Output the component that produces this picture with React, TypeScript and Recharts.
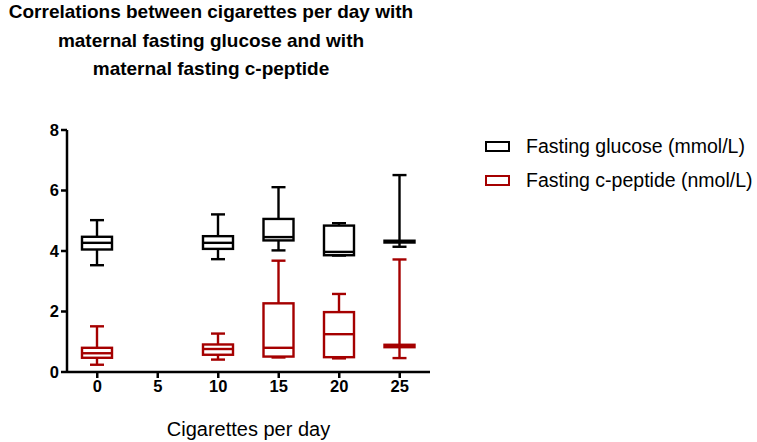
import React from "react";
import { ComposedChart, Bar, XAxis, YAxis } from "recharts";

const categories = [0, 5, 10, 15, 20, 25];

const glucoseMin = [3.53, null, 3.73, 4.02, 3.85, 4.14];
const glucoseQ1 = [4.05, null, 4.07, 4.35, 3.86, 4.28];
const glucoseMedian = [4.27, null, 4.27, 4.46, 3.97, 4.31];
const glucoseQ3 = [4.47, null, 4.49, 5.06, 4.84, 4.34];
const glucoseMax = [5.02, null, 5.21, 6.11, 4.92, 6.51];

const peptideMin = [0.24, null, 0.41, 0.48, 0.45, 0.46];
const peptideQ1 = [0.47, null, 0.57, 0.51, 0.49, 0.82];
const peptideMedian = [0.62, null, 0.76, 0.8, 1.25, 0.86];
const peptideQ3 = [0.8, null, 0.91, 2.27, 1.98, 0.9];
const peptideMax = [1.51, null, 1.27, 3.68, 2.58, 3.72];

const yTicks = [0, 2, 4, 6, 8];

const seriesNames = ["Fasting glucose (mmol/L)", "Fasting c-peptide (nmol/L)"];
const seriesColors = ["#000000", "#a50000"];

const titleLines = [
    "Correlations between cigarettes per day with",
    "maternal fasting glucose and with",
    "maternal fasting c-peptide",
];

const data = categories.map((c, i) => ({
    cig: c,
    g: glucoseMin[i] == null ? null : [glucoseMin[i], glucoseMax[i]],
    gQ1: glucoseQ1[i],
    gMed: glucoseMedian[i],
    gQ3: glucoseQ3[i],
    p: peptideMin[i] == null ? null : [peptideMin[i], peptideMax[i]],
    pQ1: peptideQ1[i],
    pMed: peptideMedian[i],
    pQ3: peptideQ3[i],
}));

const FONT = "'Liberation Sans', Arial, sans-serif";

// draws a whole box plot from the range bar (min..max) the library positioned
const makeBox = (prefix: string, color: string) => (props: any) => {
    const { x, y, width, height, payload } = props;
    const range = payload[prefix];
    if (!range || !height) return null;
    const [lo, hi] = range;
    const top = Math.min(y, y + height);
    const h = Math.abs(height);
    const ppu = h / (hi - lo);
    const py = (v: number) => top + (hi - v) * ppu;
    const cx = x + width / 2;
    const cap = 7;
    const q1 = py(payload[prefix + "Q1"]);
    const q3 = py(payload[prefix + "Q3"]);
    const med = py(payload[prefix + "Med"]);
    const s = { stroke: color, strokeWidth: 2.4, fill: "none" };
    return (
        <g>
            <line x1={cx} x2={cx} y1={py(hi)} y2={q3} {...s} />
            <line x1={cx} x2={cx} y1={q1} y2={py(lo)} {...s} />
            <line x1={cx - cap} x2={cx + cap} y1={py(hi)} y2={py(hi)} {...s} />
            <line x1={cx - cap} x2={cx + cap} y1={py(lo)} y2={py(lo)} {...s} />
            <rect x={x} y={q3} width={width} height={Math.max(q1 - q3, 0.5)} {...s} />
            <line x1={x} x2={x + width} y1={med} y2={med} {...s} />
        </g>
    );
};

export default function App() {
    return (
        <div style={{ position: "absolute", left: 0, top: 0, width: 757, height: 442, background: "#fff", fontFamily: FONT }}>
            <ComposedChart
                width={450}
                height={442}
                data={data}
                margin={{ top: 130, right: 20, bottom: 2, left: 37 }}
            >
                <XAxis
                    xAxisId="g"
                    dataKey="cig"
                    type="category"
                    height={68}
                    tickLine={{ stroke: "#000", strokeWidth: 2.5 }}
                    axisLine={{ stroke: "#000", strokeWidth: 2.5 }}
                    tickSize={6}
                    tick={{ fill: "#000", fontSize: 16.5, fontWeight: "bold", fontFamily: FONT }}
                    label={{ value: "Cigarettes per day", position: "insideBottom", offset: 4, fill: "#000", fontSize: 20, fontFamily: FONT }}
                />
                <XAxis xAxisId="p" dataKey="cig" type="category" hide />
                <YAxis
                    domain={[0, 8]}
                    ticks={yTicks}
                    width={30}
                    tickLine={{ stroke: "#000", strokeWidth: 2.5 }}
                    axisLine={{ stroke: "#000", strokeWidth: 2.5 }}
                    tickSize={6}
                    tick={{ fill: "#000", fontSize: 16.5, fontWeight: "bold", fontFamily: FONT }}
                />
                <Bar xAxisId="g" dataKey="g" barSize={30} shape={makeBox("g", seriesColors[0])} isAnimationActive={false} />
                <Bar xAxisId="p" dataKey="p" barSize={30} shape={makeBox("p", seriesColors[1])} isAnimationActive={false} />
            </ComposedChart>

            <div style={{ position: "absolute", left: 0, top: -2, width: 422, textAlign: "center", fontWeight: "bold", fontSize: 19, lineHeight: "28.5px", color: "#000" }}>
                {titleLines.map((t) => (
                    <div key={t}>{t}</div>
                ))}
            </div>

            <div style={{ position: "absolute", left: 485, top: 130 }}>
                {seriesNames.map((n, i) => (
                    <div key={n} style={{ display: "flex", alignItems: "center", height: 33.5 }}>
                        <div style={{ width: 21, height: 7, border: `2.5px solid ${seriesColors[i]}`, marginRight: 16 }} />
                        <span style={{ fontSize: 19.5, color: "#000" }}>{n}</span>
                    </div>
                ))}
            </div>
        </div>
    );
}
